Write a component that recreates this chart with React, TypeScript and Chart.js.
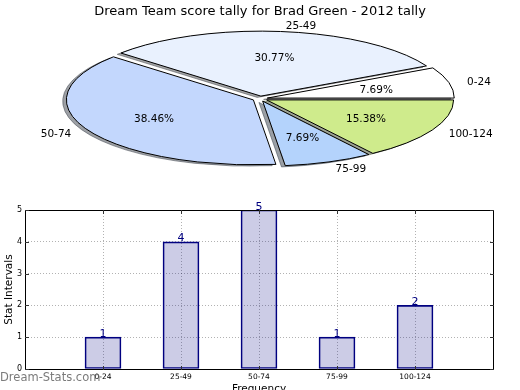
import React, { useEffect, useRef } from 'react';
import { Chart, registerables } from 'chart.js';

Chart.register(...registerables);

// ---- data ----
const TITLE = 'Dream Team score tally for Brad Green - 2012 tally';
const CATEGORIES = ['0-24', '25-49', '50-74', '75-99', '100-124'];
const COUNTS = [1, 4, 5, 1, 2];
const Y_TICKS = [0, 1, 2, 3, 4, 5];
const X_TITLE = 'Frequency';
const Y_TITLE = 'Stat Intervals';
const WATERMARK = 'Dream-Stats.com';

// ---- style ----
const PIE_COLORS = ['#ffffff', '#e9f1fe', '#c3d7fd', '#b4d3fc', '#cfeb8c'];
const EXPLODE = 0.04;
const FONT = "'DejaVu Sans', 'Liberation Sans', sans-serif";
const PIE_R = 187;
const SQUASH = 0.3475;
const SHADOW_DX = -3.7;
const SHADOW_DY = 1.3;
const GRID = 'rgba(0,0,0,0.3)';

function shadowOf(hex: string) {
  const r = Math.round(parseInt(hex.slice(1, 3), 16) * 0.3);
  const g = Math.round(parseInt(hex.slice(3, 5), 16) * 0.3);
  const b = Math.round(parseInt(hex.slice(5, 7), 16) * 0.3);
  return `rgba(${r},${g},${b},0.5)`;
}

function squash(ctx: CanvasRenderingContext2D, cx: number, cy: number) {
  ctx.translate(cx, cy);
  ctx.scale(1, -SQUASH);
  ctx.translate(-cx, -cy);
}

function slicePath(ctx: CanvasRenderingContext2D, el: any, R: number) {
  const off = (el.options.offset || 0) / 4;
  const half = (el.startAngle + el.endAngle) / 2;
  const ox = el.x + Math.cos(half) * off;
  const oy = el.y + Math.sin(half) * off;
  ctx.beginPath();
  ctx.moveTo(ox, oy);
  ctx.arc(ox, oy, R, el.startAngle, el.endAngle);
  ctx.closePath();
}

const piePlugin = {
  id: 'ellipticPie',
  beforeDatasetsDraw(chart: any) {
    const meta = chart.getDatasetMeta(0);
    const ctx: CanvasRenderingContext2D = chart.ctx;
    const R = meta.controller.outerRadius;
    const cx = meta.data[0].x;
    const cy = meta.data[0].y;
    meta.data.forEach((el: any) => {
      const off = (el.options.offset || 0) / 4;
      const fix = 1 - Math.sin(Math.min(Math.PI, el.circumference || 0));
      el.outerRadius = R - off * fix;
    });
    meta.data.forEach((el: any, i: number) => {
      ctx.save();
      ctx.translate(SHADOW_DX, SHADOW_DY);
      squash(ctx, cx, cy);
      slicePath(ctx, el, R);
      ctx.restore();
      ctx.save();
      ctx.fillStyle = shadowOf(PIE_COLORS[i]);
      ctx.strokeStyle = shadowOf(PIE_COLORS[i]);
      ctx.lineWidth = 1;
      ctx.fill();
      ctx.stroke();
      ctx.restore();
    });
    ctx.save();
    squash(ctx, cx, cy);
  },
  afterDatasetsDraw(chart: any) {
    const ctx: CanvasRenderingContext2D = chart.ctx;
    ctx.restore();
    const meta = chart.getDatasetMeta(0);
    const R = meta.controller.outerRadius;
    const cx = meta.data[0].x;
    const cy = meta.data[0].y;
    meta.data.forEach((el: any) => {
      ctx.save();
      squash(ctx, cx, cy);
      slicePath(ctx, el, R);
      ctx.restore();
      ctx.save();
      ctx.strokeStyle = '#000';
      ctx.lineWidth = 1;
      ctx.lineJoin = 'miter';
      ctx.stroke();
      ctx.restore();
    });
    const values = chart.data.datasets[0].data as number[];
    const total = values.reduce((a, b) => a + b, 0);
    ctx.save();
    ctx.fillStyle = '#000';
    ctx.font = `10.5px ${FONT}`;
    ctx.textBaseline = 'alphabetic';
    const fs = 10.5;
    meta.data.forEach((el: any, i: number) => {
      const off = (el.options.offset || 0) / 4;
      const half = (el.startAngle + el.endAngle) / 2;
      const c = Math.cos(half);
      const s = Math.sin(half);
      const dl = off + 1.1 * R;
      const lx = cx + dl * c;
      const ly = cy - SQUASH * dl * s;
      ctx.textAlign = c > 0 ? 'left' : 'right';
      ctx.fillText(chart.data.labels[i], lx, ly + fs * 0.365);
      const dp = off + 0.6 * R;
      const px = cx + dp * c;
      const py = cy - SQUASH * dp * s;
      ctx.textAlign = 'center';
      ctx.fillText(((values[i] / total) * 100).toFixed(2) + '%', px, py + fs * 0.365);
    });
    ctx.restore();
  },
  afterDraw(chart: any) {
    const ctx: CanvasRenderingContext2D = chart.ctx;
    ctx.save();
    ctx.fillStyle = '#000';
    ctx.font = `13px ${FONT}`;
    ctx.textAlign = 'center';
    ctx.textBaseline = 'alphabetic';
    ctx.fillText(TITLE, 260, 14.5);
    ctx.restore();
  },
};

const barPlugin = {
  id: 'barDecor',
  afterDatasetsDraw(chart: any) {
    const ctx: CanvasRenderingContext2D = chart.ctx;
    const meta = chart.getDatasetMeta(0);
    const data = chart.data.datasets[0].data;
    ctx.save();
    ctx.font = `11px ${FONT}`;
    ctx.fillStyle = '#000080';
    ctx.textAlign = 'center';
    ctx.textBaseline = 'alphabetic';
    meta.data.forEach((el: any, i: number) => {
      const v = data[i];
      if (v == null) return;
      ctx.fillText(String(v), el.x, el.y - 0.5);
    });
    ctx.restore();
  },
  afterDraw(chart: any) {
    const ctx: CanvasRenderingContext2D = chart.ctx;
    const { left, right, top, bottom } = chart.chartArea;
    ctx.save();
    ctx.strokeStyle = '#000';
    ctx.lineWidth = 1;
    ctx.strokeRect(left + 0.5, top + 0.5, right - left, bottom - top);
    // inward ticks
    ctx.strokeStyle = '#333';
    ctx.beginPath();
    chart.scales.y.ticks.forEach((t: any) => {
      const py = Math.round(chart.scales.y.getPixelForValue(t.value)) + 0.5;
      ctx.moveTo(left, py);
      ctx.lineTo(left + 4, py);
      ctx.moveTo(right + 1, py);
      ctx.lineTo(right - 3, py);
    });
    chart.data.labels.forEach((lab: string, i: number) => {
      if (!lab) return;
      const px = Math.round(chart.scales.x.getPixelForValue(i)) + 0.5;
      ctx.moveTo(px, bottom + 1);
      ctx.lineTo(px, bottom - 3);
      ctx.moveTo(px, top);
      ctx.lineTo(px, top + 4);
    });
    ctx.stroke();
    // watermark
    ctx.fillStyle = 'rgba(100,100,100,0.85)';
    ctx.font = `11.5px ${FONT}`;
    ctx.textAlign = 'left';
    ctx.textBaseline = 'alphabetic';
    ctx.fillText(WATERMARK, 0, 186);
    ctx.restore();
  },
};

export default function App() {
  const pieRef = useRef<HTMLCanvasElement>(null);
  const barRef = useRef<HTMLCanvasElement>(null);

  useEffect(() => {
    const pie = new Chart(pieRef.current as HTMLCanvasElement, {
      type: 'pie',
      data: {
        labels: CATEGORIES,
        datasets: [
          {
            data: COUNTS,
            backgroundColor: PIE_COLORS,
            borderWidth: 0,
            offset: CATEGORIES.map(() => EXPLODE * PIE_R * 4),
            hoverOffset: 0,
            radius: PIE_R,
            clip: false,
          } as any,
        ],
      },
      options: {
        responsive: false,
        animation: false,
        events: [],
        rotation: 90,
        layout: { padding: { top: 2.4, bottom: 0, left: 0, right: 0 } },
        plugins: { legend: { display: false }, tooltip: { enabled: false }, title: { display: false } },
      } as any,
      plugins: [piePlugin],
    });

    const bar = new Chart(barRef.current as HTMLCanvasElement, {
      type: 'bar',
      data: {
        labels: ['', ...CATEGORIES, ''],
        datasets: [
          {
            data: [null, ...COUNTS, null],
            backgroundColor: 'rgba(0,0,128,0.2)',
            borderColor: '#000080',
            borderWidth: 1,
            borderSkipped: false,
            barThickness: 36,
          } as any,
        ],
      },
      options: {
        responsive: false,
        animation: false,
        events: [],
        layout: { padding: { top: 15, right: 27, left: 0, bottom: 0 } },
        plugins: { legend: { display: false }, tooltip: { enabled: false } },
        scales: {
          x: {
            type: 'category',
            offset: false,
            grid: { offset: false, color: GRID, lineWidth: 1, drawTicks: false },
            border: { display: false, dash: [1, 2] },
            ticks: { font: { family: FONT, size: 7.5 }, color: '#000', padding: 4, maxRotation: 0, autoSkip: false },
            title: { display: true, text: X_TITLE, font: { family: FONT, size: 10.5 }, color: '#000', padding: { top: 0, bottom: -6 } },
            afterFit: (s: any) => { s.height = 21; },
          },
          y: {
            min: Y_TICKS[0],
            max: Y_TICKS[Y_TICKS.length - 1],
            afterBuildTicks: (s: any) => { s.ticks = Y_TICKS.map((v) => ({ value: v })); },
            grid: { color: GRID, lineWidth: 1, drawTicks: false },
            border: { display: false, dash: [1, 2] },
            ticks: { font: { family: FONT, size: 8 }, color: '#000', padding: 3 },
            title: { display: true, text: Y_TITLE, font: { family: FONT, size: 10.5 }, color: '#000', padding: { top: 2.5, bottom: 0 } },
            afterFit: (s: any) => { s.width = 25; },
          },
        },
      } as any,
      plugins: [barPlugin],
    });

    return () => {
      pie.destroy();
      bar.destroy();
    };
  }, []);

  return (
    <div style={{ position: 'absolute', left: 0, top: 0, width: 520, height: 390, background: '#fff', overflow: 'hidden' }}>
      <canvas ref={pieRef} width={520} height={195} style={{ position: 'absolute', left: 0, top: 0, width: 520, height: 195 }} />
      <canvas ref={barRef} width={520} height={195} style={{ position: 'absolute', left: 0, top: 195, width: 520, height: 195 }} />
    </div>
  );
}
